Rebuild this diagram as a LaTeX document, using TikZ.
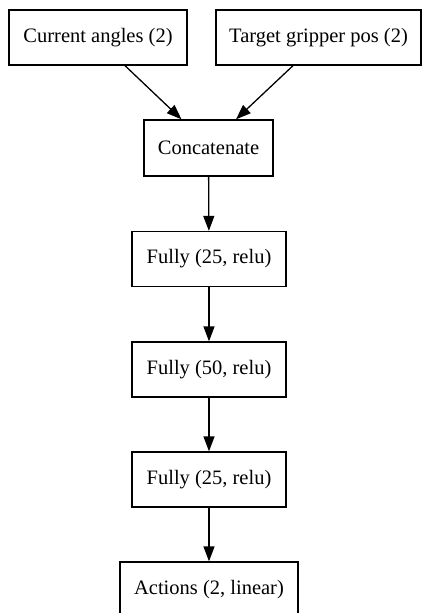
\documentclass[tikz,border=0pt]{standalone}
\usepackage{fontspec}
\setmainfont{Liberation Serif}
\usetikzlibrary{arrows.meta,calc}
\begin{document}
\begin{tikzpicture}[x=1pt,y=1pt,
  layer/.style={draw=black, line width=1.3pt, fill=white, inner sep=0pt,
    minimum height=55pt, font=\fontsize{20.5}{24}\selectfont},
  edge/.style={line width=1.3pt, -{Triangle[length=15pt,width=11pt]}}]
  \useasboundingbox (0,0) rectangle (423,-613);
  % input layers
  \node[layer, minimum width=178pt] (cur) at (98,-37.5) {Current angles (2)};
  \node[layer, minimum width=205pt] (tgt) at (318.5,-37.5) {Target gripper pos (2)};
  % network stack
  \node[layer, minimum width=129pt, minimum height=56pt] (cat) at (208.5,-148) {Concatenate};
  \node[layer, minimum width=154pt] (f1) at (209,-259) {Fully (25, relu)};
  \node[layer, minimum width=154pt] (f2) at (209,-369.5) {Fully (50, relu)};
  \node[layer, minimum width=154pt] (f3) at (209,-479.5) {Fully (25, relu)};
  \node[layer, minimum width=178pt] (act) at (209,-589.5) {Actions (2, linear)};
  % connections
  \draw[edge] ([xshift=27pt]cur.south) -- ([xshift=-27pt]cat.north);
  \draw[edge] ([xshift=-25.5pt]tgt.south) -- ([xshift=27.5pt]cat.north);
  \draw[edge] (cat) -- (f1);
  \draw[edge] (f1) -- (f2);
  \draw[edge] (f2) -- (f3);
  \draw[edge] (f3) -- (act);
\end{tikzpicture}
\end{document}
